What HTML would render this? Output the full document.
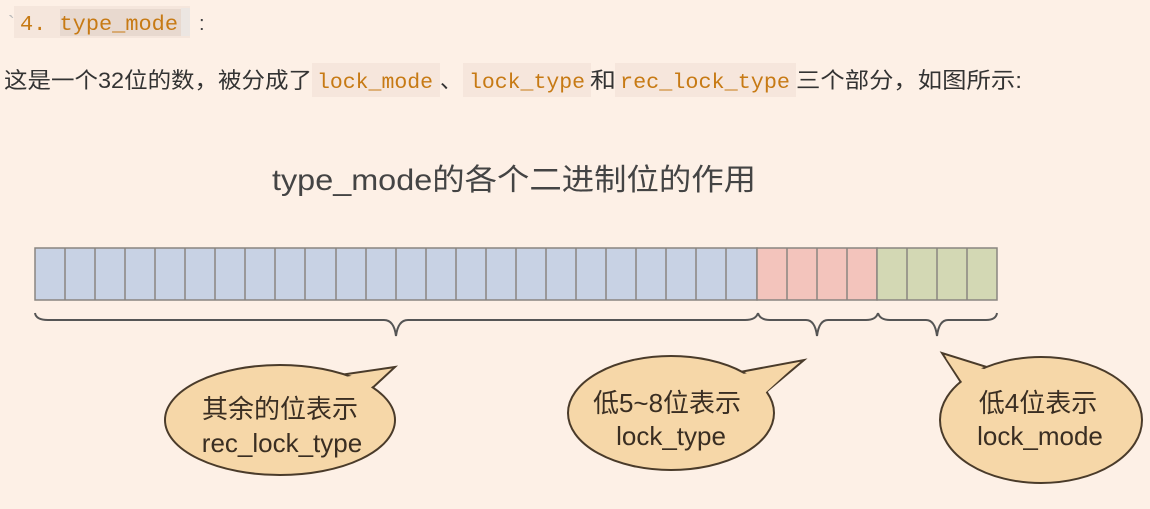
<!DOCTYPE html>
<html><head><meta charset="utf-8">
<style>
html,body{margin:0;padding:0;background:#fdf0e6;width:1150px;height:509px;overflow:hidden;}
</style></head><body>
<svg width="1150" height="509" style="position:absolute;left:0;top:0" font-family="Liberation Sans,Noto Sans CJK SC,sans-serif">
<rect x="14" y="6" width="176" height="32" fill="#f5e6dc"/>
<rect x="60" y="9" width="121" height="27" fill="#e8d9cf"/>
<rect x="181" y="8" width="9" height="28" fill="#ece6e2"/>
<text x="8" y="30" font-size="20" fill="#bbb">`</text>
<text x="20" y="30" font-size="21" fill="#c77a14" font-family="Liberation Mono,monospace" textLength="158" lengthAdjust="spacingAndGlyphs">4. type_mode</text>
<text x="199" y="30" font-size="20" fill="#444">:</text>

<rect x="312" y="63" width="128" height="34" fill="#f6e6dc"/>
<rect x="463" y="63" width="128" height="34" fill="#f6e6dc"/>
<rect x="615" y="63" width="181" height="34" fill="#f6e6dc"/>
<g font-size="22" fill="#333">
<text x="4" y="88" textLength="308" lengthAdjust="spacingAndGlyphs">这是一个32位的数，被分成了</text>
<text x="440" y="88">、</text>
<text x="590" y="88" textLength="26" lengthAdjust="spacingAndGlyphs">和</text>
<text x="796" y="88" textLength="226" lengthAdjust="spacingAndGlyphs">三个部分，如图所示:</text>
</g>
<g font-size="21" fill="#c77a14" font-family="Liberation Mono,monospace">
<text x="317" y="88" textLength="116" lengthAdjust="spacingAndGlyphs">lock_mode</text>
<text x="469" y="88" textLength="116" lengthAdjust="spacingAndGlyphs">lock_type</text>
<text x="620" y="88" textLength="170" lengthAdjust="spacingAndGlyphs">rec_lock_type</text>
</g>

<text x="272" y="190" font-size="30" fill="#444" textLength="484" lengthAdjust="spacingAndGlyphs">type_mode的各个二进制位的作用</text>
<g stroke="#8a8580" stroke-width="1.5">
<rect x="35" y="248" width="722" height="52" fill="#c8d2e4"/>
<rect x="757" y="248" width="120" height="52" fill="#f3c4bc"/>
<rect x="877" y="248" width="120" height="52" fill="#d3d8b4"/>
<path d="M65 248V300M95 248V300M125 248V300M155 248V300M185 248V300M215 248V300M245 248V300M275 248V300M305 248V300M336 248V300M366 248V300M396 248V300M426 248V300M456 248V300M486 248V300M516 248V300M546 248V300M576 248V300M606 248V300M636 248V300M666 248V300M696 248V300M726 248V300M787 248V300M817 248V300M847 248V300M907 248V300M937 248V300M967 248V300"/>
</g>
<g fill="none" stroke="#555" stroke-width="2">
<path d="M35 313 Q36 320 48 320 L384 320 Q394 320 396 336 Q398 320 408 320 L745 320 Q756 320 758 313"/>
<path d="M758 313 Q760 320 770 320 L806 320 Q815 320 817 336 Q819 320 828 320 L866 320 Q876 320 878 313"/>
<path d="M878 313 Q880 320 890 320 L926 320 Q935 320 937 336 Q939 320 948 320 L986 320 Q996 320 997 313"/>
</g>
<g fill="#f6d7a8" stroke="#4a3b2a" stroke-width="2">
<path d="M340 375 L395 367 L368 392 Z"/>
<ellipse cx="280" cy="420" rx="115" ry="55"/>
<path d="M740 372 L804 360 L766 392 Z"/>
<ellipse cx="671" cy="413" rx="103" ry="57"/>
<path d="M962 384 L942 353 L990 368 Z"/>
<ellipse cx="1041" cy="420" rx="101" ry="63"/>
</g>
<g fill="#f6d7a8">
<path d="M338 378 L390 370 L364 394 Z"/>
<path d="M738 375 L798 363 L764 394 Z"/>
<path d="M966 388 L946 358 L994 372 Z"/>
</g>
<g font-size="26" fill="#3a2e22" text-anchor="middle">
<text x="280" y="418">其余的位表示</text>
<text x="282" y="452">rec_lock_type</text>
<text x="667" y="412">低5~8位表示</text>
<text x="671" y="445">lock_type</text>
<text x="1038" y="412">低4位表示</text>
<text x="1040" y="445">lock_mode</text>
</g>
</svg>
</body></html>
